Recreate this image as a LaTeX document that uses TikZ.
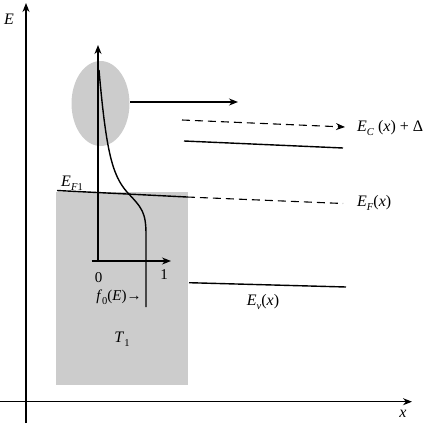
\documentclass[tikz,border=0pt]{standalone}
\usepackage{fontspec}
\setmainfont{Liberation Serif}
\newfontfamily\lserif{Liberation Serif}
\usetikzlibrary{arrows.meta}
\newcommand{\lsub}[1]{\raisebox{-0.28em}{\fontsize{10.5}{11}\selectfont #1}}
\begin{document}
\begin{tikzpicture}[x=1pt,y=-1pt,
  axis/.style={line width=1.1pt,-{Stealth[length=9pt,width=7pt]}},
  thick line/.style={line width=1.4pt},
  dash line/.style={line width=1.1pt,dash pattern=on 8pt off 5pt},
  lbl/.style={font=\lserif\fontsize{16}{19}\selectfont,inner sep=0pt},
  small lbl/.style={font=\lserif\fontsize{15}{18}\selectfont,inner sep=0pt}]
\useasboundingbox (0,0) rectangle (428,423);
% shaded regions
\fill[black!20] (56,192) rectangle (188,385);
\fill[black!20] (100.5,103.5) ellipse [x radius=29, y radius=42.5];
% main axes
\coordinate (yb) at (26,423);
\coordinate (yt) at (26,3);
\coordinate (xl) at (0,401.7);
\coordinate (xr) at (412,401.7);
\draw[axis] (yb) -- (yt);
\draw[axis] (xl) -- (xr);
\node[lbl] (El) at (9,19) {\textit{E}};
\node[lbl] (xlab) at (403,414) {\textit{x}};
% inner axes
\coordinate (io) at (98,261);
\coordinate (it) at (98,45);
\coordinate (il) at (91.5,261);
\coordinate (ir) at (171,261);
\draw[axis,line width=1.4pt] (io) -- (it);
\draw[axis,line width=1.4pt] (il) -- (ir);
\node[small lbl] (zero) at (98.5,278) {0};
\node[small lbl] (one) at (164,274.5) {1};
\node[small lbl] (f0) at (119,297) {\textit{f}\lsub{0}(\textit{E})\textrightarrow};
\node[lbl] (T1) at (122,339) {\textit{T}\lsub{1}};
% Fermi curve
\coordinate (c0) at (99,70);
\coordinate (c1) at (127,192);
\coordinate (c2) at (146,235);
\coordinate (c3) at (146,307);
\draw[thick line] (c0) .. controls (106,150) and (112,175) .. (c1)
  .. controls (142,208) and (146,212) .. (c2) -- (c3);
% arrow from ellipse
\coordinate (a0) at (130,102);
\coordinate (a1) at (238,102);
\draw[axis,line width=1.4pt] (a0) -- (a1);
% Ec + Delta dashed arrow
\coordinate (d0) at (182,120);
\coordinate (d1) at (345,127);
\draw[dash line,-{Stealth[length=9pt,width=7pt]}] (d0) -- (d1);
\node[lbl,anchor=west] (EcD) at (357,128) {\textit{E}\lsub{\textit{C}} (\textit{x}) + Δ};
% Ec solid
\coordinate (e0) at (184,141);
\coordinate (e1) at (343,148);
\draw[thick line] (e0) -- (e1);
% Fermi level
\coordinate (f1) at (57,190.5);
\coordinate (f2) at (187,197);
\coordinate (f3) at (343,203.5);
\draw[thick line] (f1) -- (f2);
\draw[dash line] (f2) -- (f3);
\node[lbl] (EF1) at (72,183) {\textit{E}\lsub{\textit{F}1}};
\node[lbl,anchor=west] (EF) at (357,203) {\textit{E}\lsub{\textit{F}}(\textit{x})};
% valence band
\coordinate (v0) at (189,282.7);
\coordinate (v1) at (346,287);
\draw[thick line] (v0) -- (v1);
\node[lbl] (Ev) at (263,302) {\textit{E}\lsub{\textit{v}}(\textit{x})};
\end{tikzpicture}
\end{document}
